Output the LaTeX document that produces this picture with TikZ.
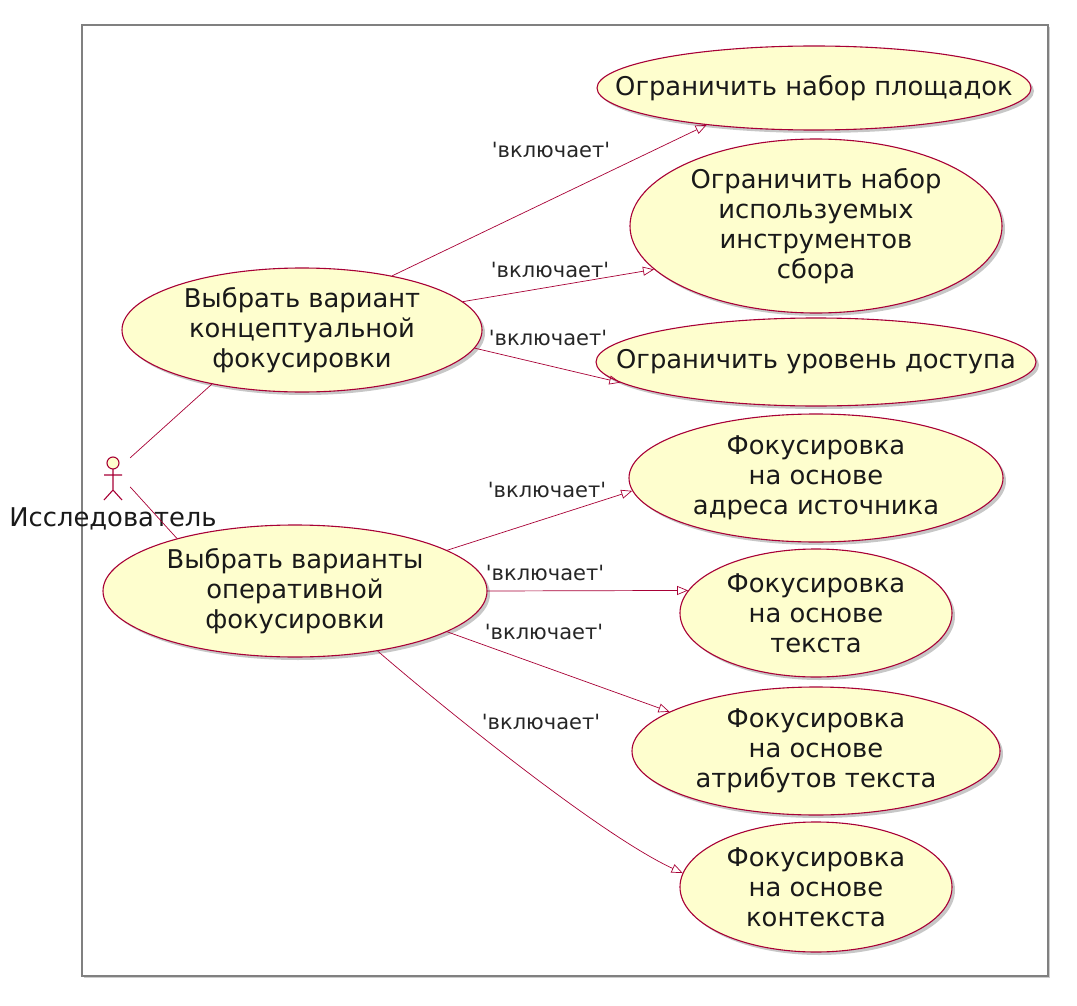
\documentclass[tikz,border=0pt]{standalone}
\usepackage{fontspec}
\setmainfont{DejaVu Sans}[Ligatures=TeXOff]
\usetikzlibrary{shapes.geometric,arrows.meta,shadows}
\definecolor{umlred}{HTML}{A80036}
\definecolor{umlfill}{HTML}{FEFECE}
\tikzset{
  uc/.style={ellipse, draw=umlred, fill=umlfill, line width=1.1pt, inner sep=0pt,
    drop shadow={shadow xshift=3pt, shadow yshift=-3pt, opacity=0.22, fill=black}},
  uctext/.style={align=center, inner sep=0pt, font=\fontsize{25.8}{30}\selectfont, text=black!90},
  inclabel/.style={inner sep=0pt, font=\fontsize{21}{25}\selectfont, text=black!85},
  inc/.style={draw=umlred, line width=0.7pt, -{Triangle[open, length=11pt, width=9pt]}},
  assoc/.style={draw=umlred, line width=0.7pt},
  frame/.style={draw=black!50, line width=1.3pt,
    drop shadow={shadow xshift=2pt, shadow yshift=-2pt, opacity=0.2, fill=black}},
}
\begin{document}
\begin{tikzpicture}[x=1pt, y=-1pt]
\useasboundingbox (0,0) rectangle (1077,1006);
\fill[white] (0,0) rectangle (1077,1006);
\draw[frame, fill=white] (82,25) rectangle (1048,976);

% use cases, left
\node[uc, minimum width=360pt, minimum height=124pt,
  label={[uctext]center:{Выбрать вариант\\концептуальной\\фокусировки}}] (e1) at (302,330) {};
\node[uc, minimum width=384pt, minimum height=132pt,
  label={[uctext]center:{Выбрать варианты\\оперативной\\фокусировки}}] (e2) at (295,591) {};

% use cases, right
\node[uc, minimum width=434pt, minimum height=84pt,
  label={[uctext]center:{Ограничить набор площадок}}] (r1) at (814,88) {};
\node[uc, minimum width=372pt, minimum height=174pt,
  label={[uctext]center:{Ограничить набор\\используемых\\инструментов\\сбора}}] (r2) at (816,226) {};
\node[uc, minimum width=440pt, minimum height=88pt,
  label={[uctext]center:{Ограничить уровень доступа}}] (r3) at (816,362) {};
\node[uc, minimum width=374pt, minimum height=128pt,
  label={[uctext]center:{Фокусировка\\на основе\\адреса источника}}] (r4) at (816,478) {};
\node[uc, minimum width=272pt, minimum height=128pt,
  label={[uctext]center:{Фокусировка\\на основе\\текста}}] (r5) at (816,613) {};
\node[uc, minimum width=368pt, minimum height=128pt,
  label={[uctext]center:{Фокусировка\\на основе\\атрибутов текста}}] (r6) at (816,751) {};
\node[uc, minimum width=272pt, minimum height=130pt,
  label={[uctext]center:{Фокусировка\\на основе\\контекста}}] (r7) at (816,887) {};

% actor
\node[minimum width=28pt, minimum height=44pt, inner sep=0pt] (actor) at (116,480) {};
\draw[umlred, line width=1.1pt, fill=umlfill] (113,463) circle[radius=6pt];
\draw[umlred, line width=1.1pt] (113,469) -- (113,490)
  (104,475) -- (122,475)
  (104,500) -- (113,490) -- (122,500);
\node[uctext] (actorname) at (113,519) {Исследователь};

% associations
\draw[assoc] (actor.north east) -- (e1.211);
\draw[assoc] (actor.-26.6) -- (e2.156);

% include relations
\draw[inc] (e1.31) -- (r1.199);
\draw[inc] (e1.10) -- (r2.195);
\draw[inc] (e1.-6) -- (r3.186);
\draw[inc] (e2.15) -- (r4.184);
\draw[inc] (e2.0) -- (r5.170);
\draw[inc] (e2.-15) -- (r6.165);
\draw[inc] (e2.-36) .. controls (440,705) and (600,835) .. (r7.174);

% labels
\node[inclabel] (l1) at (551,150) {'включает'};
\node[inclabel] (l2) at (550,270) {'включает'};
\node[inclabel] (l3) at (548,338) {'включает'};
\node[inclabel] (l4) at (547,490) {'включает'};
\node[inclabel] (l5) at (545,573) {'включает'};
\node[inclabel] (l6) at (544,632) {'включает'};
\node[inclabel] (l7) at (541,722) {'включает'};
\end{tikzpicture}
\end{document}
